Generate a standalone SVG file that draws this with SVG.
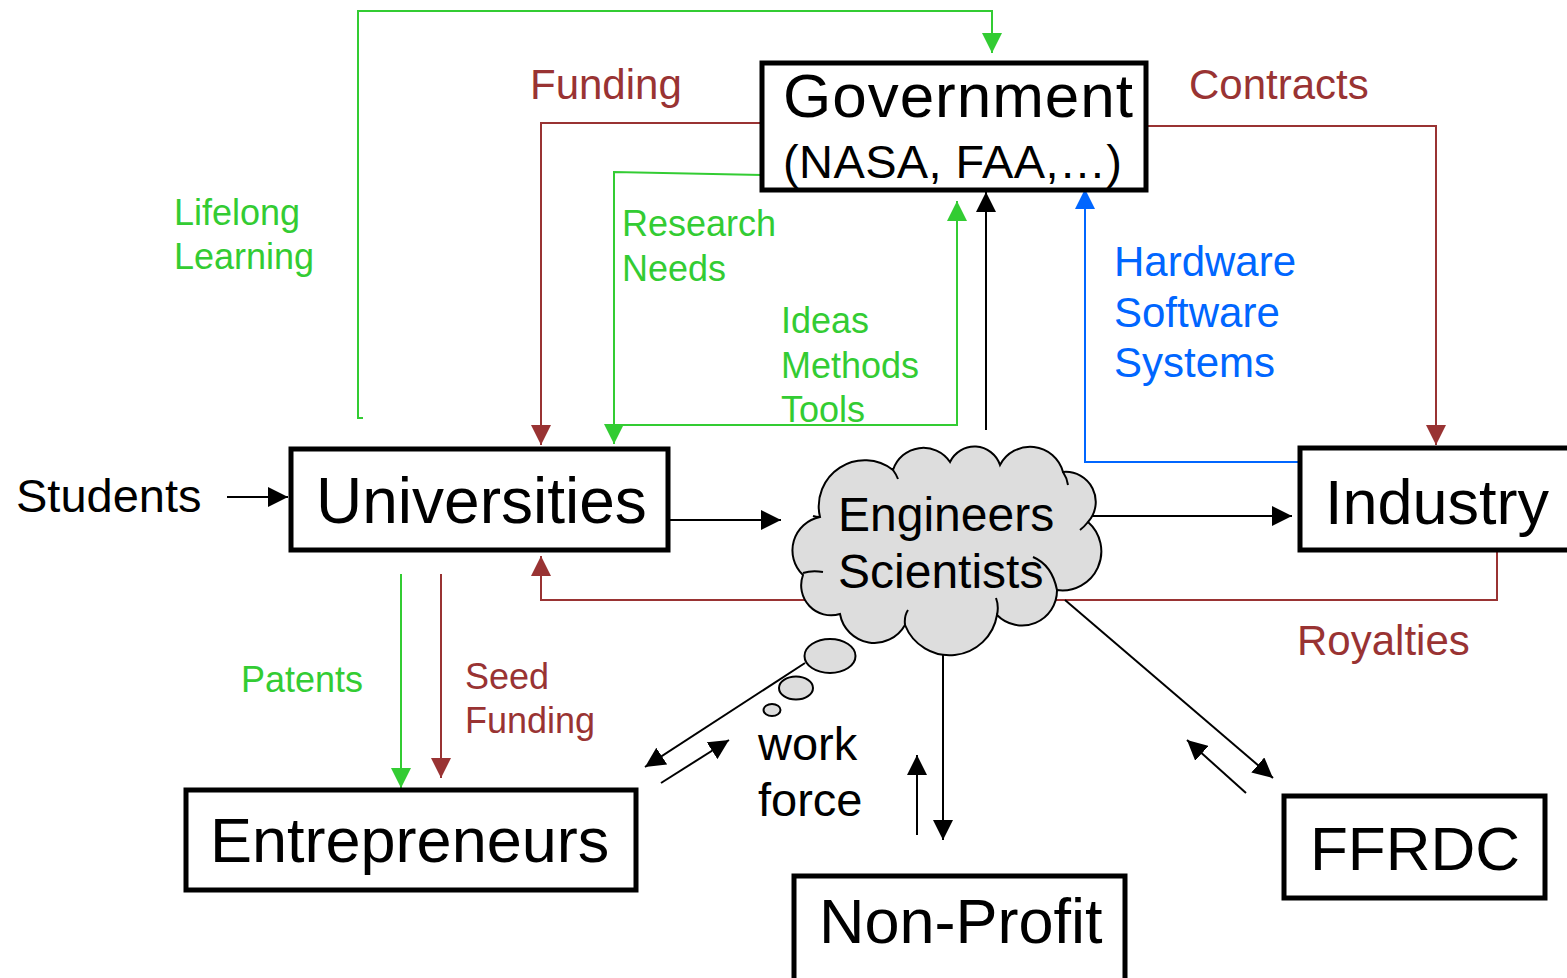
<svg xmlns="http://www.w3.org/2000/svg" width="1567" height="978" viewBox="0 0 1567 978">
<style>
text{font-family:"Liberation Sans",Arial,sans-serif}
.box{fill:#fff;stroke:#000;stroke-width:5}
.c{fill:none;stroke-width:2}
.k{stroke:#000}
.r{stroke:#993333}
.g{stroke:#33cc33}
.b{stroke:#0066ff}
.tr{fill:#993333;font-size:42px}
.tg{fill:#33cc33;font-size:36px}
.tb{fill:#0066ff;font-size:42px}
.tk{fill:#000}
</style>
<defs>
<marker id="ak" viewBox="0 0 20 20" markerWidth="20" markerHeight="20" refX="20" refY="10" orient="auto" markerUnits="userSpaceOnUse"><path d="M0,0 L20,10 L0,20 Z" fill="#000"/></marker>
<marker id="ar" viewBox="0 0 20 20" markerWidth="20" markerHeight="20" refX="20" refY="10" orient="auto" markerUnits="userSpaceOnUse"><path d="M0,0 L20,10 L0,20 Z" fill="#993333"/></marker>
<marker id="ag" viewBox="0 0 20 20" markerWidth="20" markerHeight="20" refX="20" refY="10" orient="auto" markerUnits="userSpaceOnUse"><path d="M0,0 L20,10 L0,20 Z" fill="#33cc33"/></marker>
<marker id="ab" viewBox="0 0 20 20" markerWidth="20" markerHeight="20" refX="20" refY="10" orient="auto" markerUnits="userSpaceOnUse"><path d="M0,0 L20,10 L0,20 Z" fill="#0066ff"/></marker>
</defs>
<rect width="1567" height="978" fill="#fff"/>
<g id="connectors">
<path class="c g" d="M363,418 H358 V11 H992 V53" marker-end="url(#ag)"/>
<path class="c r" d="M762,123 H541 V445" marker-end="url(#ar)"/>
<path class="c g" d="M762,175 L614,172 V444" marker-end="url(#ag)"/>
<path class="c g" d="M616,425 H957 V201" marker-end="url(#ag)"/>
<path class="c k" d="M986,430 V192" marker-end="url(#ak)"/>
<path class="c b" d="M1306,462 H1085 V189" marker-end="url(#ab)"/>
<path class="c r" d="M1146,126 H1436 V445" marker-end="url(#ar)"/>
<path class="c r" d="M1497,552 V600 H541 V556" marker-end="url(#ar)"/>
<path class="c k" d="M670,520 H781" marker-end="url(#ak)"/>
<path class="c k" d="M1092,516 H1292" marker-end="url(#ak)"/>
<path class="c k" d="M227,497 H288" marker-end="url(#ak)"/>
<path class="c g" d="M401,574 V788" marker-end="url(#ag)"/>
<path class="c r" d="M441,574 V778" marker-end="url(#ar)"/>
<path class="c k" d="M805,663 L645,767" marker-end="url(#ak)"/>
<path class="c k" d="M661,783 L729,740" marker-end="url(#ak)"/>
<path class="c k" d="M917,835 V755" marker-end="url(#ak)"/>
<path class="c k" d="M943,655 V840" marker-end="url(#ak)"/>
<path class="c k" d="M1065,600 L1273,778" marker-end="url(#ak)"/>
<path class="c k" d="M1246,793 L1187,740" marker-end="url(#ak)"/>
</g>
<g id="labels">
<text class="tr" x="530" y="99">Funding</text>
<text class="tr" x="1189" y="99">Contracts</text>
<text class="tg" x="174" y="225">Lifelong</text>
<text class="tg" x="174" y="269">Learning</text>
<text class="tg" x="622" y="236">Research</text>
<text class="tg" x="622" y="281">Needs</text>
<text class="tg" x="781" y="333">Ideas</text>
<text class="tg" x="781" y="378">Methods</text>
<text class="tg" x="781" y="422">Tools</text>
<text class="tb" x="1114" y="276">Hardware</text>
<text class="tb" x="1114" y="327">Software</text>
<text class="tb" x="1114" y="377">Systems</text>
<text class="tr" x="1297" y="655">Royalties</text>
<text class="tg" x="241" y="692">Patents</text>
<text class="tr" x="465" y="689" style="font-size:36px">Seed</text>
<text class="tr" x="465" y="733" style="font-size:36px">Funding</text>
<text class="tk" x="16" y="512" font-size="47">Students</text>
<text class="tk" x="758" y="760" font-size="47">work</text>
<text class="tk" x="758" y="816" font-size="47">force</text>
</g>
<g id="government">
<rect class="box" x="762" y="63" width="384" height="127"/>
<text class="tk" x="783" y="117" font-size="62" textLength="350">Government</text>
<text class="tk" x="783" y="178" font-size="47" textLength="339">(NASA, FAA,…)</text>
</g>
<g id="universities">
<rect class="box" x="291" y="449" width="377" height="101"/>
<text class="tk" x="316" y="523" font-size="64">Universities</text>
</g>
<g id="industry">
<rect class="box" x="1300" y="448" width="280" height="102"/>
<text class="tk" x="1325" y="524" font-size="63">Industry</text>
</g>
<g id="entrepreneurs">
<rect class="box" x="186" y="790" width="450" height="100"/>
<text class="tk" x="210" y="862" font-size="63">Entrepreneurs</text>
</g>
<g id="nonprofit">
<rect class="box" x="794" y="876" width="331" height="120"/>
<text class="tk" x="819" y="943" font-size="63">Non-Profit</text>
</g>
<g id="ffrdc">
<rect class="box" x="1284" y="796" width="261" height="102"/>
<text class="tk" x="1310" y="870" font-size="62">FFRDC</text>
</g>
<g id="cloud">
<path d="M820,517 A46,46 0 0 1 893,470 A32,32 0 0 1 950,462 A27,27 0 0 1 1000,465 A34,34 0 0 1 1063,472 A30,30 0 0 1 1088,522 A39,39 0 0 1 1057,590 A35,35 0 0 1 997,615 A48,48 0 0 1 905,625 A35,35 0 0 1 840,614 A30,30 0 0 1 803,575 A34,34 0 0 1 820,517 Z" fill="#dddddd" stroke="#000" stroke-width="2"/>
<path d="M1033,557 Q1052,565 1057,590 M997,615 Q999,606 996,598 M905,625 Q904,616 908,610 M803,573 Q812,570 823,572 M820,517 Q816,517 813,516 M1063,472 Q1067,478 1068,485 M893,470 Q896,474 898,479 M1088,522 Q1084,527 1080,530" fill="none" stroke="#000" stroke-width="2"/>
<ellipse cx="830" cy="656" rx="25.5" ry="17" fill="#dddddd" stroke="#000" stroke-width="2"/>
<ellipse cx="796" cy="688" rx="17" ry="11.5" fill="#dddddd" stroke="#000" stroke-width="2"/>
<ellipse cx="772" cy="710" rx="8.5" ry="6" fill="#dddddd" stroke="#000" stroke-width="2"/>
<text class="tk" x="838" y="531" font-size="48">Engineers</text>
<text class="tk" x="838" y="588" font-size="48">Scientists</text>
</g>
</svg>
